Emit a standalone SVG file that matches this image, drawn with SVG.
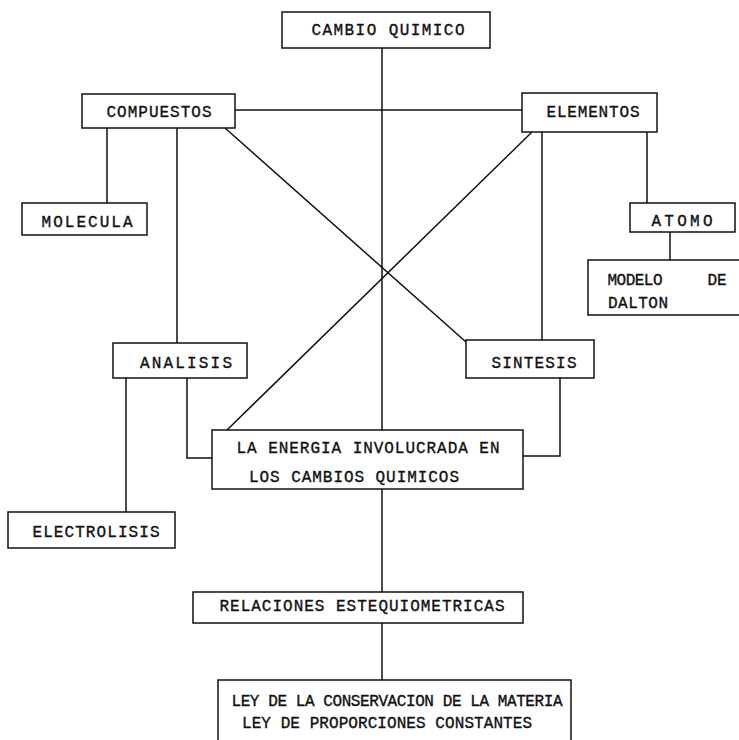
<svg xmlns="http://www.w3.org/2000/svg" width="739" height="740" viewBox="0 0 739 740">
<style>
.b{fill:#fff;stroke:#111;stroke-width:1.5}
.c{fill:none;stroke:#111;stroke-width:1.5}
text{font-family:"Liberation Mono","Courier New",monospace;font-size:16px;fill:#111;stroke:#111;stroke-width:0.35;text-anchor:middle}
</style>
<rect width="739" height="740" fill="#fff"/>
<g id="connectors">
<path class="c" d="M382 48V430M382 489V592M382 623V680"/>
<path class="c" d="M235 110H522"/>
<path class="c" d="M225 128L466 342M532 132L227 430"/>
<path class="c" d="M107 128V203M177 128V343M542 132V340M647 132V203M670 232V260"/>
<path class="c" d="M126 378V512M187 378V458H212M560 378V456H523"/>
</g>
<g id="cambio"><rect class="b" x="282" y="12" width="208" height="36"/><text x="388" y="35" textLength="153" lengthAdjust="spacing">CAMBIO QUIMICO</text></g>
<g id="compuestos"><rect class="b" x="82" y="94" width="153" height="34"/><text x="159" y="117" textLength="105" lengthAdjust="spacing">COMPUESTOS</text></g>
<g id="elementos"><rect class="b" x="522" y="93" width="135" height="39"/><text x="593" y="117" textLength="93" lengthAdjust="spacing">ELEMENTOS</text></g>
<g id="molecula"><rect class="b" x="22" y="203" width="125" height="32"/><text x="87" y="227" textLength="91" lengthAdjust="spacing">MOLECULA</text></g>
<g id="atomo"><rect class="b" x="630" y="203" width="105" height="29"/><text x="682" y="226" textLength="61" lengthAdjust="spacing">ATOMO</text></g>
<g id="modelo"><path class="b" d="M741 260H588V315H741"/><text x="635" y="285" textLength="55" lengthAdjust="spacing">MODELO</text><text x="717" y="285" textLength="19" lengthAdjust="spacing">DE</text><text x="638" y="308" textLength="60" lengthAdjust="spacing">DALTON</text></g>
<g id="analisis"><rect class="b" x="113" y="343" width="134" height="35"/><text x="186" y="368" textLength="92" lengthAdjust="spacing">ANALISIS</text></g>
<g id="sintesis"><rect class="b" x="466" y="340" width="128" height="38"/><text x="534" y="368" textLength="85" lengthAdjust="spacing">SINTESIS</text></g>
<g id="energia"><rect class="b" x="212" y="430" width="311" height="59"/><text x="368" y="453" textLength="263" lengthAdjust="spacing">LA ENERGIA INVOLUCRADA EN</text><text x="354" y="482" textLength="210" lengthAdjust="spacing">LOS CAMBIOS QUIMICOS</text></g>
<g id="electrolisis"><rect class="b" x="8" y="512" width="167" height="36"/><text x="96" y="537" textLength="127" lengthAdjust="spacing">ELECTROLISIS</text></g>
<g id="relaciones"><rect class="b" x="193" y="592" width="330" height="31"/><text x="362" y="611" textLength="285" lengthAdjust="spacing">RELACIONES ESTEQUIOMETRICAS</text></g>
<g id="ley"><rect class="b" x="218" y="680" width="353" height="70"/><text x="397" y="706" textLength="331" lengthAdjust="spacing">LEY DE LA CONSERVACION DE LA MATERIA</text><text x="387" y="728" textLength="290" lengthAdjust="spacing">LEY DE PROPORCIONES CONSTANTES</text></g>
</svg>
